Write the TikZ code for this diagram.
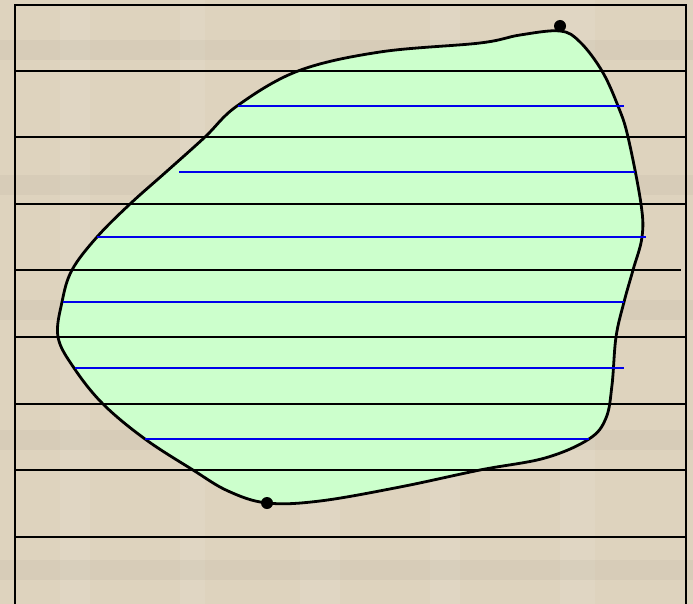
\documentclass[tikz,border=0pt]{standalone}
\usetikzlibrary{calc}
\definecolor{bgbeige}{RGB}{222,211,190}
\definecolor{blobgreen}{RGB}{204,255,204}
\definecolor{hatchblue}{RGB}{0,0,235}
\tikzset{
  gridline/.style={black, line width=2pt},
  hatchline/.style={hatchblue, line width=2.2pt},
  blobline/.style={black, line width=2.8pt, fill=blobgreen},
  dotmark/.style={black, fill=black},
}
\begin{document}
\begin{tikzpicture}[x=1pt,y=-1pt]
\fill[bgbeige] (0,0) rectangle (693,604);
\useasboundingbox (0,0) rectangle (693,604);
% texture hints
\foreach \xx/\ww in {60/30,180/25,300/40,430/30,560/35}{
  \fill[white,opacity=0.08] (\xx,0) rectangle ++(\ww,604);
}
\foreach \yy in {40,175,300,430,560}{
  \fill[black,opacity=0.03] (0,\yy) rectangle ++(693,20);
}
% blob
\draw[blobline] plot[smooth cycle, tension=0.6] coordinates {
 (560,31) (580,42) (602,71) (618,106) (628,137) (641,204) (642,237)
 (633,270) (624,302) (616,337) (612,385) (606,418) (589,439)
 (545,458) (480,470) (400,487) (320,501) (267,503) (228,491) (193,470)
 (145,439) (103,404) (74,368) (58,337) (62,302) (72,270) (97,237) (130,204)
 (166,172) (205,137) (237,106) (298,71) (380,52) (480,43) (520,35)
};
% blue hatch lines
\coordinate (b1l) at (238,106); \coordinate (b1r) at (624,106);
\coordinate (b2l) at (179,172); \coordinate (b2r) at (635,172);
\coordinate (b3l) at (97,237);  \coordinate (b3r) at (646,237);
\coordinate (b4l) at (63,302);  \coordinate (b4r) at (624,302);
\coordinate (b5l) at (75,368);  \coordinate (b5r) at (624,368);
\coordinate (b6l) at (145,439); \coordinate (b6r) at (589,439);
\foreach \i in {1,...,6}{\draw[hatchline] (b\i l) -- (b\i r);}
% grid frame
\coordinate (tl) at (15,5); \coordinate (tr) at (686,5);
\coordinate (bl) at (15,604); \coordinate (br) at (686,604);
\draw[gridline] (bl) -- (tl) -- (tr) -- (br);
\foreach \yy in {71,137,204,337,404,470,537}{
  \draw[gridline] (15,\yy) -- (686,\yy);
}
\draw[gridline] (15,270) -- (681,270);
% dots
\coordinate (dtop) at (560,26);
\coordinate (dbot) at (267,503);
\fill[dotmark] (dtop) circle (6);
\fill[dotmark] (dbot) circle (6);
\end{tikzpicture}
\end{document}
